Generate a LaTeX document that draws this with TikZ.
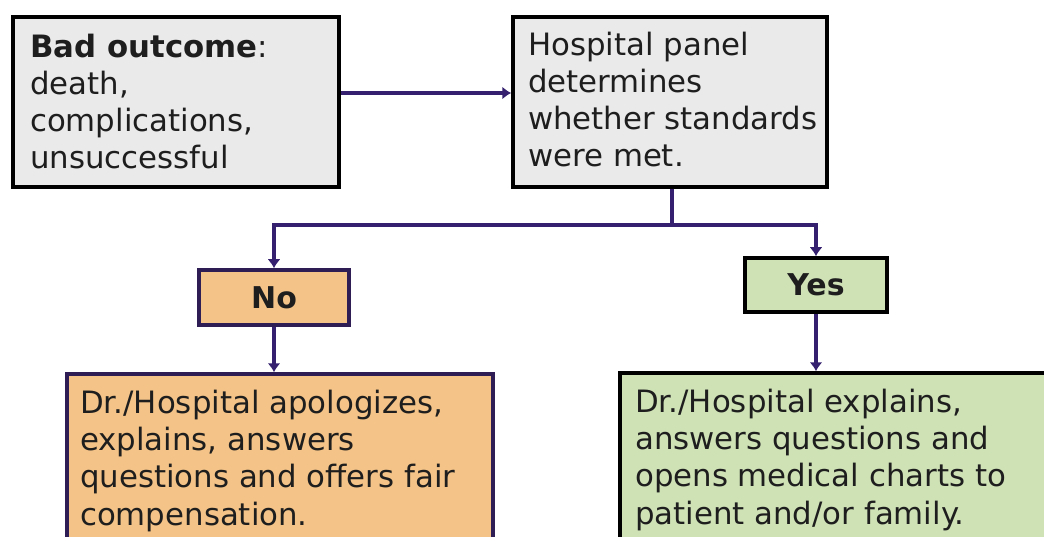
\documentclass[tikz,border=0pt]{standalone}
\usepackage{fontspec}
\setmainfont{DejaVu Sans}
\usetikzlibrary{arrows.meta}
\definecolor{conn}{HTML}{34206E}
\definecolor{grayfill}{HTML}{EBEAEA}
\definecolor{orangefill}{HTML}{F4C387}
\definecolor{greenfill}{HTML}{CFE2B6}
\definecolor{purpleborder}{HTML}{2E1C55}
\definecolor{txtcol}{HTML}{1E1E1E}
\begin{document}
\begin{tikzpicture}[x=1pt,y=-1pt,
  box/.style={draw=black, line width=3.5pt, inner sep=0pt},
  graybox/.style={box, fill=grayfill},
  orangebox/.style={box, draw=purpleborder, fill=orangefill},
  greenbox/.style={box, fill=greenfill},
  boxtext/.style={anchor=base west, align=left, inner sep=0pt, text=txtcol,
    font=\fontsize{30.8}{37.3}\selectfont},
  choicetext/.style={text=txtcol, font=\fontsize{30}{32}\selectfont\bfseries},
  conn/.style={draw=conn, line width=4pt, -{Latex[length=9pt,width=13pt]}}
]
\useasboundingbox (0,0) rectangle (1044,537);
\fill[white] (0,0) rectangle (1044,537);
\begin{scope}
\clip (0,0) rectangle (1044,537);
% boxes
\node[graybox, minimum width=326pt, minimum height=170pt] (a) at (176,102) {};
\node[graybox, minimum width=314pt, minimum height=170pt] (b) at (670,102) {};
\node[orangebox, minimum width=150pt, minimum height=55pt, choicetext] (no) at (274,297.5) {No};
\node[greenbox, minimum width=142pt, minimum height=54pt, choicetext] (yes) at (816,285) {Yes};
\node[orangebox, minimum width=426pt, minimum height=186pt] (c) at (280,467) {};
\node[greenbox, minimum width=440pt, minimum height=187pt] (d) at (840,466.5) {};
% texts (anchored at the baseline of the last line)
\node[boxtext] (at) at (30,169) {\textbf{Bad outcome}:\\death,\\complications,\\unsuccessful};
\node[boxtext] (bt) at (528,167) {Hospital panel\\determines\\whether standards\\were met.};
\node[boxtext] (ct) at (80,525) {Dr./Hospital apologizes,\\explains, answers\\questions and offers fair\\compensation.};
\node[boxtext] (dt) at (635,524) {Dr./Hospital explains,\\answers questions and\\opens medical charts to\\patient and/or family.};
% connectors
\draw[conn] ([yshift=9pt]a.east) -- ([yshift=9pt]b.west);
\coordinate (split) at (672,225);
\draw[conn] (b.south -| split) -- (split) -| (no.north);
\draw[conn] (split) -| (yes.north);
\draw[conn] (no.south) -- (no.south |- c.north);
\draw[conn] (yes.south) -- (yes.south |- d.north);
\end{scope}
\end{tikzpicture}
\end{document}
